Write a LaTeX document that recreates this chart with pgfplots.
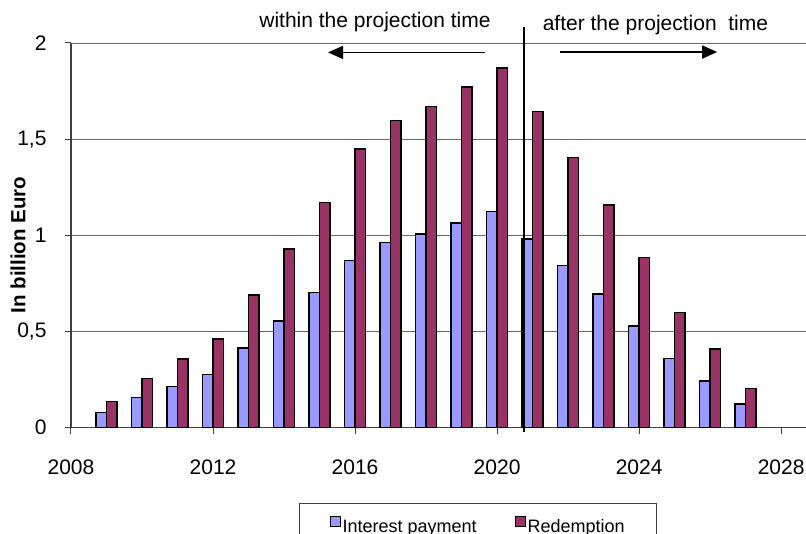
\documentclass[border=0pt]{standalone}
\usepackage{pgfplots}
\pgfplotsset{compat=1.18}
\usepackage{fontspec}
\setmainfont{Liberation Sans}
\usetikzlibrary{arrows.meta}
\definecolor{intc}{HTML}{9999FF}
\definecolor{redc}{HTML}{993366}
\begin{document}
\begin{tikzpicture}
\begin{axis}[
  scale only axis, width=735pt, height=384.7pt,
  xmin=2008, xmax=2028.7, ymin=0, ymax=2,
  axis x line*=bottom, axis y line*=left,
  xtick={2008,2012,2016,2020,2024,2028},
  xticklabels={2008,2012,2016,2020,2024,2028},
  ytick={0,0.5,1,1.5,2},
  yticklabels={0,{0,5},1,{1,5},2},
  ymajorgrids, grid style={black!60, line width=0.8pt},
  tick align=outside, major tick length=6pt,
  tick style={black!75, line width=1pt},
  axis line style={black!75, line width=1.3pt},
  tick label style={font=\fontsize{21}{24}\selectfont},
  xticklabel style={yshift=-23pt},
  yticklabel style={xshift=-15pt},
  clip=false,
  legend style={at={(0.554,-0.196)}, anchor=north, legend columns=2,
    draw=black!75, line width=0.8pt, inner xsep=30pt, inner ysep=12pt,
    font=\fontsize{18}{20}\selectfont,
    /tikz/every even column/.append style={column sep=36pt}},
]
\addplot[ybar, bar width=10.6pt, bar shift=-5.3pt, fill=intc, draw=black, line width=1.5pt,
  legend image code/.code={\draw[fill=intc, draw=black, line width=1pt] (0pt,0.5pt) rectangle (10pt,11pt);}]
coordinates {
(2009,0.08) (2010,0.156) (2011,0.215) (2012,0.276) (2013,0.414) (2014,0.556)
(2015,0.702) (2016,0.87) (2017,0.964) (2018,1.006) (2019,1.063) (2020,1.123)
(2021,0.981) (2022,0.843) (2023,0.695) (2024,0.53) (2025,0.361) (2026,0.243) (2027,0.122)
};
\addlegendentry{Interest payment}
\addplot[ybar, bar width=10.6pt, bar shift=5.3pt, fill=redc, draw=black, line width=1.5pt,
  legend image code/.code={\draw[fill=redc, draw=black, line width=1pt] (0pt,0.5pt) rectangle (10pt,11pt);}]
coordinates {
(2009,0.135) (2010,0.255) (2011,0.356) (2012,0.461) (2013,0.69) (2014,0.929)
(2015,1.17) (2016,1.45) (2017,1.596) (2018,1.67) (2019,1.77) (2020,1.87)
(2021,1.643) (2022,1.404) (2023,1.158) (2024,0.884) (2025,0.60) (2026,0.408) (2027,0.203)
};
\addlegendentry{Redemption}
\draw[black, line width=1.6pt] (axis cs:2020.76,2.081) -- (axis cs:2020.76,-0.022);
\draw[black, line width=1.6pt, -{Triangle[length=15pt,width=13pt]}] (axis cs:2019.66,1.951) -- (axis cs:2015.24,1.951);
\draw[black, line width=1.6pt, -{Triangle[length=15pt,width=13pt]}] (axis cs:2021.77,1.953) -- (axis cs:2026.2,1.953);
\node[font=\fontsize{21}{24}\selectfont] at (axis cs:2016.56,2.11) {within the projection time};
\node[font=\fontsize{21}{24}\selectfont] at (axis cs:2024.46,2.092) {after the projection\ \ time};
\node[font=\bfseries\fontsize{20.5}{24}\selectfont, rotate=90] at ([xshift=-53pt]axis cs:2008,0.95) {In billion Euro};
\end{axis}
\pgfresetboundingbox
\useasboundingbox (-71pt,-105.3pt) rectangle (735pt,427.7pt);
\end{tikzpicture}
\end{document}
